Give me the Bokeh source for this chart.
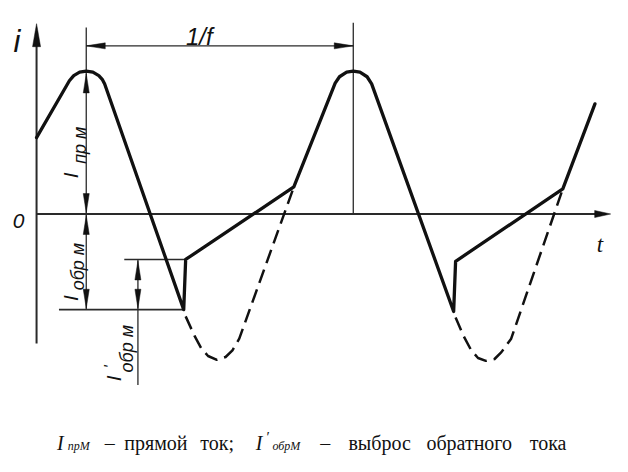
from bokeh.plotting import figure
from bokeh.models import Range1d, Label
from bokeh.embed import file_html
from bokeh.resources import INLINE
from math import pi

# ---- data (time in units where 1/f = 10, current normalised to I_прм = 1) ----
T_WAVE = [0.0, 1.229, 1.392, 1.612, 1.861, 2.111, 2.331, 2.459, 2.551,
          5.511, 5.584, 9.635,
          11.183, 11.345, 11.612, 11.861, 12.111, 12.378, 12.549,
          15.620, 15.693, 19.708, 20.912]
I_WAVE = [0.534, 0.932, 0.968, 0.992, 1.000, 0.992, 0.968, 0.942, 0.909,
          -0.669, -0.318, 0.189,
          0.915, 0.960, 0.992, 1.000, 0.992, 0.960, 0.910,
          -0.682, -0.331, 0.176, 0.770]

T_DASH1 = [5.584, 5.912, 6.168, 6.423, 6.752, 7.080, 7.336, 7.591, 9.635]
I_DASH1 = [-0.716, -0.851, -0.939, -0.993, -1.020, -1.000, -0.953, -0.872, 0.189]
T_DASH2 = [15.693, 15.985, 16.277, 16.533, 16.825, 17.153, 17.409, 17.774, 19.708]
I_DASH2 = [-0.723, -0.851, -0.953, -1.007, -1.027, -1.014, -0.966, -0.872, 0.176]

T_PEAK1 = 1.861
PERIOD = 10.0
T_PEAK2 = T_PEAK1 + PERIOD
I_PRM = 1.0          # forward current peak
I_OBRM = -0.669      # reverse current peak
I_OBRM2 = -0.318     # level after reverse overshoot
T_REV = 5.511
T_REC = 5.584
T_DIM2 = 3.796

X0, X1 = -1.3504, 21.569
Y0, Y1 = -1.6959, 1.4932
W, H = 612, 456
SX = W / (X1 - X0)
SY = H / (Y1 - Y0)

p = figure(width=W, height=H, x_range=Range1d(X0, X1), y_range=Range1d(Y0, Y1),
           output_backend="svg", toolbar_location=None, min_border=0,
           x_axis_type=None, y_axis_type=None)
p.outline_line_color = None
p.background_fill_color = "white"
p.border_fill_color = "white"

INK = "#111111"
GREY = "#2a2a2a"


def head(t, i, d, L, Wd):
    if d == "up":
        return [t, t - Wd / 2 / SX, t + Wd / 2 / SX], [i, i - L / SY, i - L / SY]
    if d == "down":
        return [t, t - Wd / 2 / SX, t + Wd / 2 / SX], [i, i + L / SY, i + L / SY]
    if d == "right":
        return [t, t - L / SX, t - L / SX], [i, i - Wd / 2 / SY, i + Wd / 2 / SY]
    return [t, t + L / SX, t + L / SX], [i, i - Wd / 2 / SY, i + Wd / 2 / SY]


# axes
Y_TIP = 1.331
X_TIP = 21.50
p.line([0, 0], [-0.905, Y_TIP - 0.05], line_width=2, line_color=GREY)
p.line([0, X_TIP - 0.3], [0, 0], line_width=2, line_color=GREY)

# dimension / extension lines
p.line([T_PEAK1, T_PEAK1], [1.304, I_OBRM], line_width=1.3, line_color=GREY)
p.line([T_PEAK2, T_PEAK2], [1.338, 0], line_width=1.3, line_color=GREY)
p.line([T_PEAK1, T_PEAK2], [1.176, 1.176], line_width=1.3, line_color=GREY)
p.line([0.839, T_REV], [I_OBRM, I_OBRM], line_width=1.6, line_color=GREY)
p.line([3.285, T_REC], [I_OBRM2, I_OBRM2], line_width=1.6, line_color=GREY)
p.line([T_DIM2, T_DIM2], [I_OBRM2, -1.196], line_width=1.3, line_color=GREY)

heads = [
    head(0, Y_TIP, "up", 23, 8),
    head(X_TIP, 0, "right", 16, 7),
    head(T_PEAK1, 1.176, "left", 19, 6),
    head(T_PEAK2, 1.176, "right", 19, 6),
    head(T_PEAK1, I_PRM - 0.02, "up", 19, 6),
    head(T_PEAK1, 0.01, "down", 19, 6),
    head(T_PEAK1, -0.01, "up", 19, 6),
    head(T_PEAK1, I_OBRM + 0.01, "down", 19, 6),
    head(T_DIM2, I_OBRM2 - 0.01, "up", 19, 6),
    head(T_DIM2, I_OBRM + 0.01, "down", 19, 6),
]
p.patches([h[0] for h in heads], [h[1] for h in heads], fill_color=INK, line_color=INK, line_width=0.5)

# waveform
p.line(T_WAVE, I_WAVE, line_width=3.3, line_color=INK, line_join="round", line_cap="round")
p.line(T_DASH1, I_DASH1, line_width=2.5, line_color=INK, line_dash="14 7", line_join="round")
p.line(T_DASH2, I_DASH2, line_width=2.5, line_color=INK, line_dash="14 7", line_join="round")

SANS = "Liberation Sans"
SERIF = "Liberation Serif"


def lab(x, y, text, font, size, style="normal", align="left", angle=0.0):
    p.add_layout(Label(x=x, y=y, text=text, text_font=font, text_font_size=size,
                       text_font_style=style, text_align=align, angle=angle,
                       text_baseline="alphabetic", text_color=INK))


# axis labels
lab(-0.730, 1.203, "i", SANS, "31px", "italic", "center")
lab(-0.675, -0.047, "0", SANS, "21px", "italic", "center")
lab(21.1, -0.216, "t", SERIF, "23px", "italic", "center")
lab(6.095, 1.243, "1/f", SANS, "24px", "italic", "center")

# rotated dimension labels
for x, y in [(1.277, 0.250), (1.277, -0.608), (2.883, -1.169)]:
    lab(x, y, "I", SANS, "21px", "italic", angle=pi / 2)
for x, y, s in [(1.642, 0.351, "пр м"), (1.569, -0.534, "обр м"), (3.394, -1.108, "обр м")]:
    lab(x, y, s, SANS, "18px", "italic", angle=pi / 2)
lab(2.774, -1.081, "'", SANS, "17px", "italic", angle=pi / 2)

# caption
CAP_Y = -1.598
SUB_Y = -1.624
SUP_Y = -1.560
lab(0.766, CAP_Y, "I", SERIF, "20px", "italic")
lab(8.212, CAP_Y, "I", SERIF, "20px", "italic")
lab(1.168, SUB_Y, "прМ", SERIF, "12px", "italic")
lab(8.832, SUB_Y, "обрМ", SERIF, "12px", "italic")
lab(8.613, SUP_Y, "′", SERIF, "15px")
for x, s in zip([2.555, 3.285, 6.131, 10.620, 11.679, 14.599, 18.467],
                ["–", "прямой", "ток;", "–", "выброс", "обратного", "тока"]):
    lab(x, CAP_Y, s, SERIF, "20px")

open("out.html", "w").write(file_html(p, INLINE))
